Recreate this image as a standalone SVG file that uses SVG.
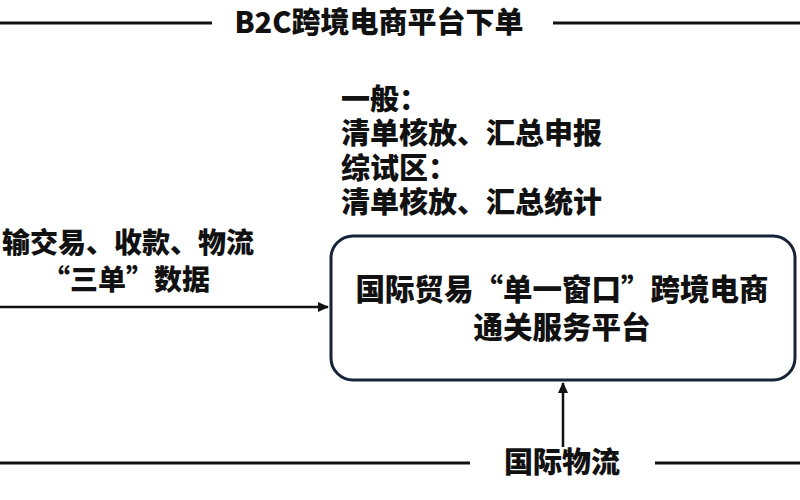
<svg xmlns="http://www.w3.org/2000/svg" width="800" height="500" viewBox="0 0 800 500">
<style>
  .t { font-family: "Noto Sans CJK SC", "Noto Sans", sans-serif; font-weight: 900; fill: #111; font-size: 28px; }
  .n { font-size: 29px; }
  .b { font-size: 29.5px; }
  .rule { stroke: #111; stroke-width: 3; fill: none; }
  .conn { stroke: #111; stroke-width: 2.5; fill: none; }
</style>
<defs>
  <marker id="arr" markerWidth="12" markerHeight="12" refX="10" refY="6" orient="auto" markerUnits="userSpaceOnUse">
    <path d="M0,1 L11,6 L0,11 Z" fill="#111"/>
  </marker>
</defs>
<rect width="800" height="500" fill="#fff"/>
<g id="top-band">
  <line class="rule" x1="0" y1="23" x2="212" y2="23"/>
  <line class="rule" x1="553" y1="23" x2="800" y2="23"/>
  <text class="t" x="379" y="33" text-anchor="middle" style="font-size:29px">B2C跨境电商平台下单</text>
</g>
<g id="bottom-band">
  <line class="rule" x1="0" y1="463" x2="470" y2="463"/>
  <line class="rule" x1="655" y1="463" x2="800" y2="463"/>
  <text class="t n" x="562" y="473" text-anchor="middle">国际物流</text>
</g>
<g id="note">
  <text class="t n" x="341" y="110">一般：</text>
  <text class="t n" x="341" y="144">清单核放、汇总申报</text>
  <text class="t n" x="341" y="179">综试区：</text>
  <text class="t n" x="341" y="213">清单核放、汇总统计</text>
</g>
<g id="left-label">
  <text class="t" x="254" y="253" text-anchor="end">输交易、收款、物流</text>
  <text class="t" x="126" y="290" text-anchor="middle">“三单”数据</text>
</g>
<g id="platform">
  <rect x="331" y="236" width="464" height="144" rx="22" ry="22" fill="#fff" stroke="#17233a" stroke-width="3"/>
  <text class="t b" x="562" y="300" text-anchor="middle">国际贸易“单一窗口”跨境电商</text>
  <text class="t b" x="562" y="338" text-anchor="middle">通关服务平台</text>
</g>
<g id="connectors">
  <line class="conn" x1="0" y1="307" x2="328" y2="307" marker-end="url(#arr)"/>
  <line class="conn" x1="563" y1="447" x2="563" y2="383" marker-end="url(#arr)"/>
</g>
</svg>
